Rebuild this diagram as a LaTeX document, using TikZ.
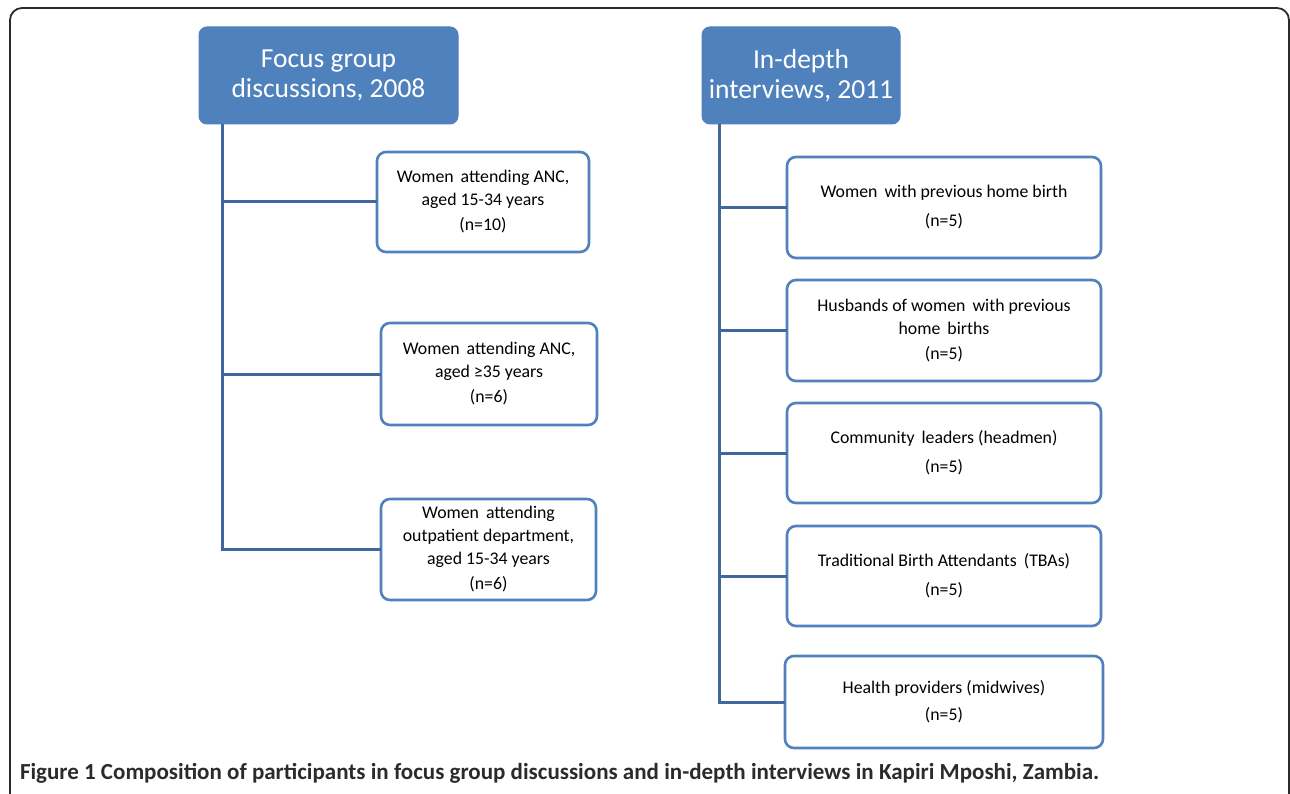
\documentclass[tikz,border=0pt]{standalone}
\usepackage{fontspec}
\setmainfont{Carlito}
\begin{document}
\begin{tikzpicture}[x=1pt,y=-1pt,
  every node/.style={inner sep=0pt,outer sep=0pt},
  header/.style={draw=boxblue,fill=boxblue,line width=1pt,rounded corners=8pt,text=white,align=center,
    font=\fontsize{27.5}{30}\selectfont},
  item/.style={draw=boxblue,fill=white,line width=2.6pt,rounded corners=9pt,align=center,
    font=\fontsize{17.8}{23}\selectfont},
  conn/.style={draw=connblue,line width=3pt},
]
\definecolor{boxblue}{HTML}{4F81BD}
\definecolor{connblue}{HTML}{41689C}
\definecolor{frame}{HTML}{2B2B2B}
\useasboundingbox (0,0) rectangle (1290,794);
% outer frame
\draw[frame,line width=1.8pt,rounded corners=12pt] (10,810) -- (10,8) -- (1289,8) -- (1289,810);
% headers
\node[header,minimum width=259pt,minimum height=97pt] (h1) at (328.5,75.5) {Focus group\\discussions, 2008};
\node[header,minimum width=198pt,minimum height=97pt] (h2) at (801,75.5) {In-depth\\interviews, 2011};
% left boxes
\node[item,minimum width=212pt,minimum height=100pt] (b1) at (483,202) {Women\, attending ANC,\\aged 15-34 years\\[2pt](n=10)};
\node[item,minimum width=216pt,minimum height=102pt] (b2) at (489,374) {Women\, attending ANC,\\aged ≥35 years\\[2pt](n=6)};
\node[item,minimum width=215pt,minimum height=101pt] (b3) at (488.5,549.5) {Women\, attending\\outpatient department,\\aged 15-34 years\\[2pt](n=6)};
% right boxes
\node[item,minimum width=314pt,minimum height=101pt] (r1) at (944,207.5) {Women\, with previous home birth\\[6pt](n=5)};
\node[item,minimum width=314pt,minimum height=101pt] (r2) at (944,330.5) {Husbands of women\, with previous\\home\, births\\[2pt](n=5)};
\node[item,minimum width=314pt,minimum height=100pt] (r3) at (944,453) {Community\, leaders (headmen)\\[6pt](n=5)};
\node[item,minimum width=314pt,minimum height=100pt] (r4) at (944,576) {Traditional Birth Attendants\, (TBAs)\\[6pt](n=5)};
\node[item,minimum width=318pt,minimum height=92pt] (r5) at (944,702) {Health providers (midwives)\\[4pt](n=5)};
% trunks
\coordinate (t1) at ([xshift=23pt]h1.south west);
\coordinate (t2) at ([xshift=17pt]h2.south west);
\draw[conn] (t1) |- (b3.west);
\draw[conn] (b1.west) -- (b1.west -| t1);
\draw[conn] (b2.west) -- (b2.west -| t1);
\draw[conn] (t2) |- (r5.west);
\draw[conn] (r1.west) -- (r1.west -| t2);
\draw[conn] (r2.west) -- (r2.west -| t2);
\draw[conn] (r3.west) -- (r3.west -| t2);
\draw[conn] (r4.west) -- (r4.west -| t2);
% caption
\node[anchor=base west,text=frame,font=\fontsize{23}{26}\selectfont\bfseries] (cap) at (20,779)
  {Figure 1 Composition of participants in focus group discussions and in-depth interviews in Kapiri Mposhi, Zambia.};
\end{tikzpicture}
\end{document}
